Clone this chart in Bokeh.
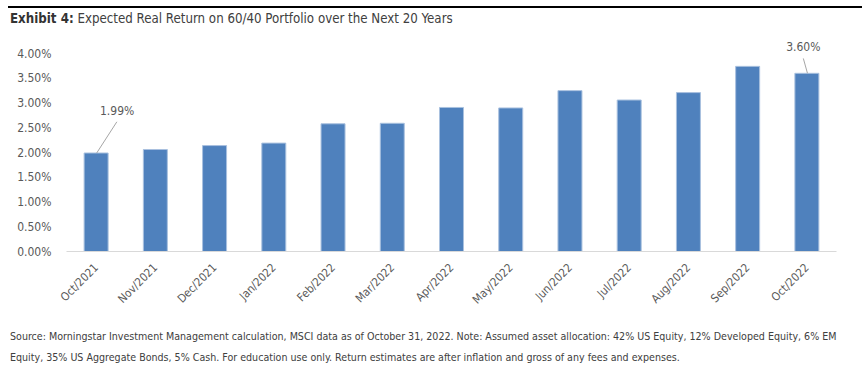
import math
from bokeh.plotting import figure
from bokeh.layouts import column
from bokeh.models import (Range1d, FactorRange, Label, PrintfTickFormatter,
                          FixedTicker, ColumnDataSource, Div)
from bokeh.embed import file_html
from bokeh.resources import INLINE

months = ["Oct/2021", "Nov/2021", "Dec/2021", "Jan/2022", "Feb/2022", "Mar/2022",
          "Apr/2022", "May/2022", "Jun/2022", "Jul/2022", "Aug/2022", "Sep/2022",
          "Oct/2022"]
returns = [1.99, 2.06, 2.14, 2.19, 2.58, 2.59, 2.91, 2.90, 3.25, 3.06, 3.21, 3.74, 3.60]
y_ticks = [0, 0.5, 1.0, 1.5, 2.0, 2.5, 3.0, 3.5, 4.0]
callouts = {"Oct/2021": "1.99%", "Oct/2022": "3.60%"}

title_bold = "Exhibit 4:"
title_rest = "Expected Real Return on 60/40 Portfolio over the Next 20 Years"
note1 = ("Source: Morningstar Investment Management calculation, MSCI data as of October 31, 2022. "
         "Note: Assumed asset allocation: 42% US Equity, 12% Developed Equity, 6% EM")
note2 = ("Equity, 35% US Aggregate Bonds, 5% Cash. For education use only. "
         "Return estimates are after inflation and gross of any fees and expenses.")

NARROW = "DejaVu Sans Condensed"
W = 868

# ---- header ----
head = Div(width=W, height=35, margin=(0, 0, 0, 0),
           styles={"font-family": NARROW},
           text=(f'<div style="margin:6px 0 0 8px;width:854px;border-top:2px solid #000;"></div>'
                 f'<div style="margin:3px 0 0 10px;font-size:13.2px;line-height:16px;'
                 f'color:#404040;white-space:nowrap;">'
                 f'<b style="color:#333333;">{title_bold}</b> {title_rest}</div>'))

# ---- main chart ----
p = figure(width=W, height=280, x_range=FactorRange(*months),
           y_range=Range1d(0, 216 / 49.5),
           output_backend="svg", toolbar_location=None,
           min_border_left=66, min_border_right=32, min_border_top=0,
           min_border_bottom=64)
p.outline_line_color = None
p.grid.grid_line_color = None

src = ColumnDataSource(dict(x=months, y=returns))
p.vbar(x="x", top="y", width=0.405, source=src, fill_color="#4F81BD",
       line_color="#A9C1DF", line_width=1)

p.yaxis.ticker = FixedTicker(ticks=y_ticks)
p.yaxis.formatter = PrintfTickFormatter(format="%.2f%%")
p.yaxis.axis_line_color = None
p.yaxis.major_tick_line_color = None
p.yaxis.minor_tick_line_color = None
p.yaxis.major_label_text_font = NARROW
p.yaxis.major_label_text_font_size = "12px"
p.yaxis.major_label_text_color = "#595959"
p.yaxis.major_label_standoff = 9

p.xaxis.axis_line_color = "#D9D9D9"
p.xaxis.axis_line_width = 1
p.xaxis.major_tick_line_color = None
p.xaxis.minor_tick_line_color = None
p.xaxis.major_label_orientation = math.pi / 4
p.xaxis.major_label_text_font = NARROW
p.xaxis.major_label_text_font_size = "11.5px"
p.xaxis.major_label_text_color = "#595959"
p.xaxis.major_label_standoff = 8

for m, txt in callouts.items():
    i = months.index(m)
    v = returns[i]
    if i == 0:
        x0, y0, x1, y1, lx, ly = i + 0.51, v, i + 0.85, v + 0.63, i + 0.855, v + 0.84
    else:
        x0, y0, x1, y1, lx, ly = i + 0.51, v, i + 0.44, v + 0.30, i + 0.44, v + 0.53
    p.segment(x0=[x0], y0=[y0], x1=[x1], y1=[y1], line_color="#A6A6A6", line_width=1)
    p.add_layout(Label(x=lx, y=ly, text=txt, text_align="center", text_baseline="middle",
                       text_font=NARROW, text_font_size="12px", text_color="#595959"))

# ---- footer ----
foot = Div(width=W, height=64, margin=(0, 0, 0, 0),
           styles={"font-family": NARROW},
           text=(f'<div style="margin:10.5px 0 0 10px;font-size:10.6px;line-height:21px;'
                 f'color:#404040;white-space:nowrap;">{note1}<br>{note2}</div>'))

layout = column(head, p, foot, spacing=0)
open("out.html", "w").write(file_html(layout, INLINE))
